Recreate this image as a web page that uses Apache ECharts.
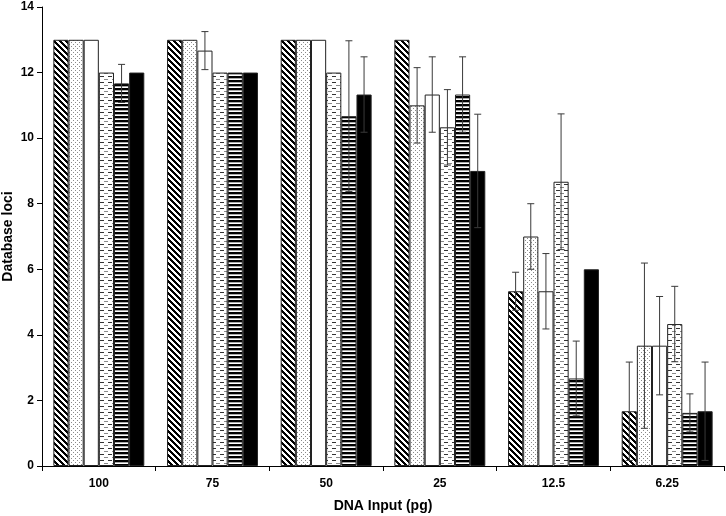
<!DOCTYPE html>
<html><head><meta charset="utf-8">
<script src="https://cdn.jsdelivr.net/npm/echarts@6/dist/echarts.min.js"></script>
<style>html,body{margin:0;padding:0;background:#fff}#c{width:726px;height:516px}</style>
</head><body><div id="c"></div>
<script>
var categories = ['100', '75', '50', '25', '12.5', '6.25'];
var s1 = [13, 13, 13, 13, 5.33, 1.67];
var s2 = [13, 13, 13, 11, 7, 3.67];
var s3 = [13, 12.67, 13, 11.33, 5.33, 3.67];
var s4 = [12, 12, 12, 10.33, 8.67, 4.33];
var s5 = [11.67, 12, 10.67, 11.33, 2.67, 1.62];
var s6 = [12, 12, 11.33, 9, 6, 1.67];
var e1 = [0, 0, 0, 0, 0.58, 1.5];
var e2 = [0, 0, 0, 1.15, 1, 2.52];
var e3 = [0, 0.58, 0, 1.15, 1.15, 1.5];
var e4 = [0, 0, 0, 1.15, 2.07, 1.15];
var e5 = [0.58, 0, 2.3, 1.15, 1.14, 0.58];
var e6 = [0, 0, 1.15, 1.73, 0, 1.5];
var yTicks = [0, 2, 4, 6, 8, 10, 12, 14];

var values = [s1, s2, s3, s4, s5, s6];
var errors = [e1, e2, e3, e4, e5, e6];

function tile(w, h, fn) {
  var c = document.createElement('canvas');
  c.width = w; c.height = h;
  var g = c.getContext('2d');
  g.fillStyle = '#fff'; g.fillRect(0, 0, w, h);
  fn(g, w, h);
  return c;
}
var pDiag = tile(6, 6, function (g, w, h) {
  g.fillStyle = '#000';
  for (var y = 0; y < h; y++) for (var x = 0; x < w; x++) {
    if ((((x - y) % 6) + 6) % 6 < 3) g.fillRect(x, y, 1, 1);
  }
});
var pDot = tile(4, 4, function (g) {
  g.fillStyle = '#8a8a8a';
  g.fillRect(1, 0, 1, 1);
  g.fillRect(3, 2, 1, 1);
});
var pDash = tile(8, 6, function (g) {
  g.fillStyle = '#8a8a8a'; g.fillRect(0, 1, 4, 1);
  g.fillStyle = '#333'; g.fillRect(4, 4, 4, 1);
});
var pHor = tile(2, 4, function (g) {
  g.fillStyle = '#000'; g.fillRect(0, 0, 2, 2);
  g.fillStyle = '#aaa'; g.fillRect(0, 2, 2, 1);
});
var fills = [
  { image: pDiag, repeat: 'repeat' },
  { image: pDot, repeat: 'repeat' },
  '#ffffff',
  { image: pDash, repeat: 'repeat' },
  { image: pHor, repeat: 'repeat' },
  '#000000'
];

var font = "'Liberation Sans Narrow', 'Liberation Sans', Arial, sans-serif";
var gap = 0.2;
var series = values.map(function (v, i) {
  return {
    type: 'bar', data: v, barGap: '0%', barCategoryGap: (gap * 100) + '%',
    itemStyle: { color: fills[i], borderColor: '#222', borderWidth: 1 },
    silent: true, animation: false
  };
});
var errData = [];
values.forEach(function (v, i) {
  v.forEach(function (val, c) {
    if (errors[i][c] > 0) errData.push([c, val, errors[i][c], i]);
  });
});
series.push({
  type: 'custom', data: errData, z: 10, animation: false, silent: true,
  encode: { x: 0, y: 1 },
  renderItem: function (params, api) {
    var c = api.value(0), v = api.value(1), e = api.value(2), i = api.value(3);
    var band = api.size([1, 0])[0];
    var bw = band * (1 - gap) / 6;
    var cx = api.coord([c, v])[0] - band * (1 - gap) / 2 + bw * (i + 0.5);
    var yHi = api.coord([c, v + e])[1];
    var yLo = api.coord([c, Math.max(0, v - e)])[1];
    var hw = 3.5;
    var st = { stroke: '#3a3a3a', lineWidth: 1 };
    return { type: 'group', children: [
      { type: 'line', shape: { x1: cx, y1: yHi, x2: cx, y2: yLo }, style: st },
      { type: 'line', shape: { x1: cx - hw, y1: yHi, x2: cx + hw, y2: yHi }, style: st },
      { type: 'line', shape: { x1: cx - hw, y1: yLo, x2: cx + hw, y2: yLo }, style: st }
    ]};
  }
});

var chart = echarts.init(document.getElementById('c'), null, { renderer: 'canvas' });
chart.setOption({
  animation: false,
  backgroundColor: '#fff',
  grid: { left: 42, right: 2, top: 7, bottom: 50, containLabel: false, outerBoundsMode: 'none' },
  xAxis: {
    type: 'category', data: categories,
    name: 'DNA Input (pg)', nameLocation: 'middle', nameGap: 33, nameMoveOverlap: false,
    nameTextStyle: { fontFamily: font, fontWeight: 'bold', fontSize: 14, color: '#000' },
    axisLine: { lineStyle: { color: '#000', width: 1 } },
    axisTick: { show: true, length: 5, lineStyle: { color: '#000' } },
    axisLabel: { fontFamily: font, fontWeight: 'bold', fontSize: 12, color: '#000', margin: 12 }
  },
  yAxis: {
    type: 'value', min: 0, max: 14, interval: 2,
    name: 'Database loci', nameLocation: 'middle', nameGap: 27, nameRotate: 90, nameMoveOverlap: false,
    nameTextStyle: { fontFamily: font, fontWeight: 'bold', fontSize: 14, color: '#000' },
    axisLine: { show: true, lineStyle: { color: '#000', width: 1 } },
    axisTick: { show: true, length: 5, lineStyle: { color: '#000' } },
    splitLine: { show: false },
    axisLabel: { fontFamily: font, fontWeight: 'bold', fontSize: 12, color: '#000', margin: 8,
      formatter: function (v) { return yTicks.indexOf(v) >= 0 ? String(v) : ''; } }
  },
  series: series
});
</script></body></html>
